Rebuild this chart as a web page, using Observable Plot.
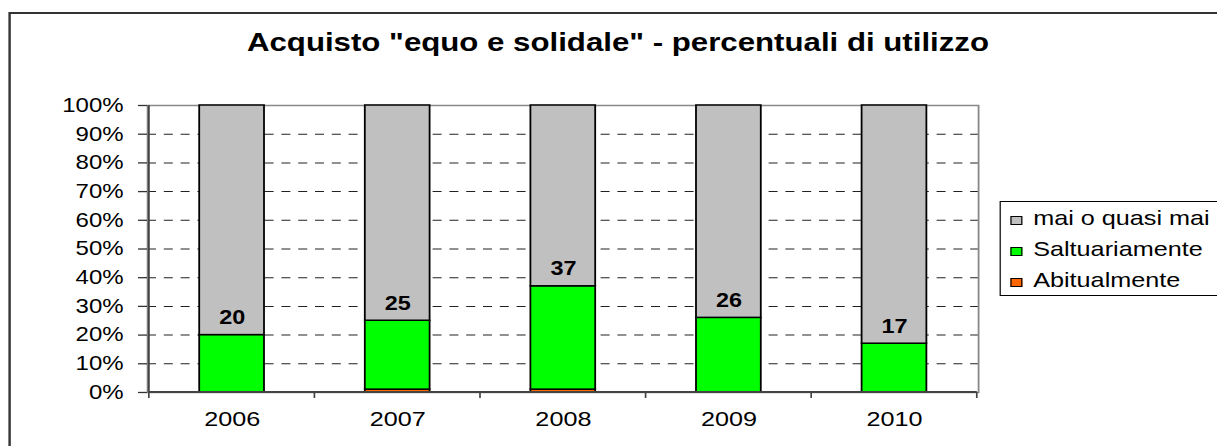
<!DOCTYPE html>
<html>
<head>
<meta charset="utf-8">
<script src="https://cdn.jsdelivr.net/npm/d3@7"></script>
<script src="https://cdn.jsdelivr.net/npm/@observablehq/plot@0.6"></script>
<style>
  html, body { margin: 0; padding: 0; background: #fff; overflow: hidden; width: 1217px; height: 446px; }
  #wrap { position: absolute; left: 0; top: 0; width: 1014.17px; height: 446px;
          transform: scaleX(1.2); transform-origin: 0 0;
          font-family: "Liberation Sans", Arial, sans-serif; color: #000; }
  #frame { position: absolute; left: 6.7px; top: 12px; width: 2000px; height: 1000px;
           border: 2px solid #333; box-sizing: border-box; }
  #title { position: absolute; left: 0; top: 29px; width: 1030px; text-align: center;
           font-size: 26px; line-height: 26px; font-weight: bold; white-space: nowrap; }
  #chart { position: absolute; left: 0; top: 0; }
  #legend { position: absolute; left: 833.3px; top: 201px; width: 300px; height: 95px;
            border: 1px solid #000; box-sizing: border-box; background: #fff; }
  .item { position: absolute; left: 0; height: 21px; font-size: 21px; line-height: 21px; white-space: nowrap; }
  .sw { position: absolute; left: 7.4px; top: 9px; width: 10px; height: 9px; border: 1px solid #000; box-sizing: border-box; }
  .lab { position: absolute; left: 26.7px; top: 0; }
</style>
</head>
<body>
<div id="wrap">
  <div id="frame"></div>
  <div id="chart"></div>
  <div id="title"></div>
  <div id="legend"></div>
</div>
<script>
// ---- data ----
const titleText = 'Acquisto "equo e solidale" - percentuali di utilizzo';
const years = ["2006", "2007", "2008", "2009", "2010"];
const abitualmente = [0, 1, 1, 0, 0];
const saltuariamente = [20, 24, 36, 26, 17];
const maiQuasiMai = [80, 75, 63, 74, 83];
const barLabels = [20, 25, 37, 26, 17];
const seriesNames = ["Abitualmente", "Saltuariamente", "mai o quasi mai"];
const seriesColors = ["#FF6600", "#00FF00", "#C0C0C0"];
const legendOrder = ["mai o quasi mai", "Saltuariamente", "Abitualmente"];
const yTicks = [0, 10, 20, 30, 40, 50, 60, 70, 80, 90, 100];
const gridTicks = [10, 20, 30, 40, 50, 60, 70, 80, 90];

// ---- table ----
const seriesValues = [abitualmente, saltuariamente, maiQuasiMai];
const rows = [];
years.forEach((y, i) => {
  seriesNames.forEach((s, k) => rows.push({year: y, series: s, value: seriesValues[k][i]}));
});
const labelRows = years.map((y, i) => ({year: y, total: barLabels[i]}));

const S = 1.2;
const W = 1217 / S;

// custom axis lines + category boundary ticks, drawn through the scales
function axisLines(index, scales, values, dims) {
  const x = scales.x, y = scales.y;
  const step = typeof x.step === "function" ? x.step() : (dims.width - dims.marginLeft - dims.marginRight) / years.length;
  const bw = typeof x.bandwidth === "function" ? x.bandwidth() : step * 0.39;
  const off = (step - bw) / 2;
  const bounds = years.map(v => x(v) - off);
  bounds.push(x(years[years.length - 1]) + bw + off);
  const g = d3.create("svg:g");
  const y0 = y(0), y1 = y(100);
  g.append("line").attr("x1", bounds[0]).attr("x2", bounds[0]).attr("y1", y1).attr("y2", y0)
    .attr("stroke", "#444").attr("stroke-width", 1.6);
  g.append("line").attr("x1", bounds[0]).attr("x2", bounds[bounds.length - 1]).attr("y1", y0).attr("y2", y0)
    .attr("stroke", "#444").attr("stroke-width", 2);
  for (const b of bounds) {
    g.append("line").attr("x1", b).attr("x2", b).attr("y1", y0).attr("y2", y0 + 6)
      .attr("stroke", "#444").attr("stroke-width", 1.4);
  }
  return g.node();
}

const chart = Plot.plot({
  width: W,
  height: 446,
  marginLeft: 147 / S,
  marginRight: (1217 - 978) / S,
  marginTop: 105,
  marginBottom: 54,
  style: {fontFamily: '"Liberation Sans", Arial, sans-serif', fontSize: "20px", color: "#000", background: "transparent"},
  x: {domain: years, paddingInner: 0.61, paddingOuter: 0.305, label: null},
  y: {domain: [0, 100], label: null},
  color: {domain: seriesNames, range: seriesColors},
  marks: [
    Plot.ruleY(gridTicks, {stroke: "#222", strokeWidth: 1, strokeDasharray: "7.5,6.5"}),
    Plot.frame({stroke: "#888", strokeWidth: 1.5}),
    Plot.barY(rows, {x: "year", y: "value", fill: "series", order: seriesNames, stroke: "#000", strokeWidth: 1.5}),
    Plot.text(labelRows, {x: "year", y: "total", text: d => String(d.total), dy: -11, lineAnchor: "bottom",
      fontWeight: "bold", fontSize: 19.5, fill: "#000"}),
    Plot.axisY({ticks: yTicks, tickFormat: d => d + "%", tickSize: 7.5, tickPadding: 12.5, fontSize: 20, stroke: "#333", strokeWidth: 1.3}),
    Plot.axisX({tickSize: 0, tickPadding: 19, fontSize: 21}),
    axisLines
  ]
});
document.getElementById("chart").appendChild(chart);

document.getElementById("title").textContent = titleText;

const legend = document.getElementById("legend");
const rowTops = [5, 36, 67];
legendOrder.forEach((name, i) => {
  const it = document.createElement("div");
  it.className = "item";
  it.style.top = rowTops[i] + "px";
  const sw = document.createElement("div");
  sw.className = "sw";
  sw.style.background = seriesColors[seriesNames.indexOf(name)];
  const lab = document.createElement("span");
  lab.className = "lab";
  lab.textContent = name;
  it.appendChild(sw);
  it.appendChild(lab);
  legend.appendChild(it);
});
</script>
</body>
</html>
